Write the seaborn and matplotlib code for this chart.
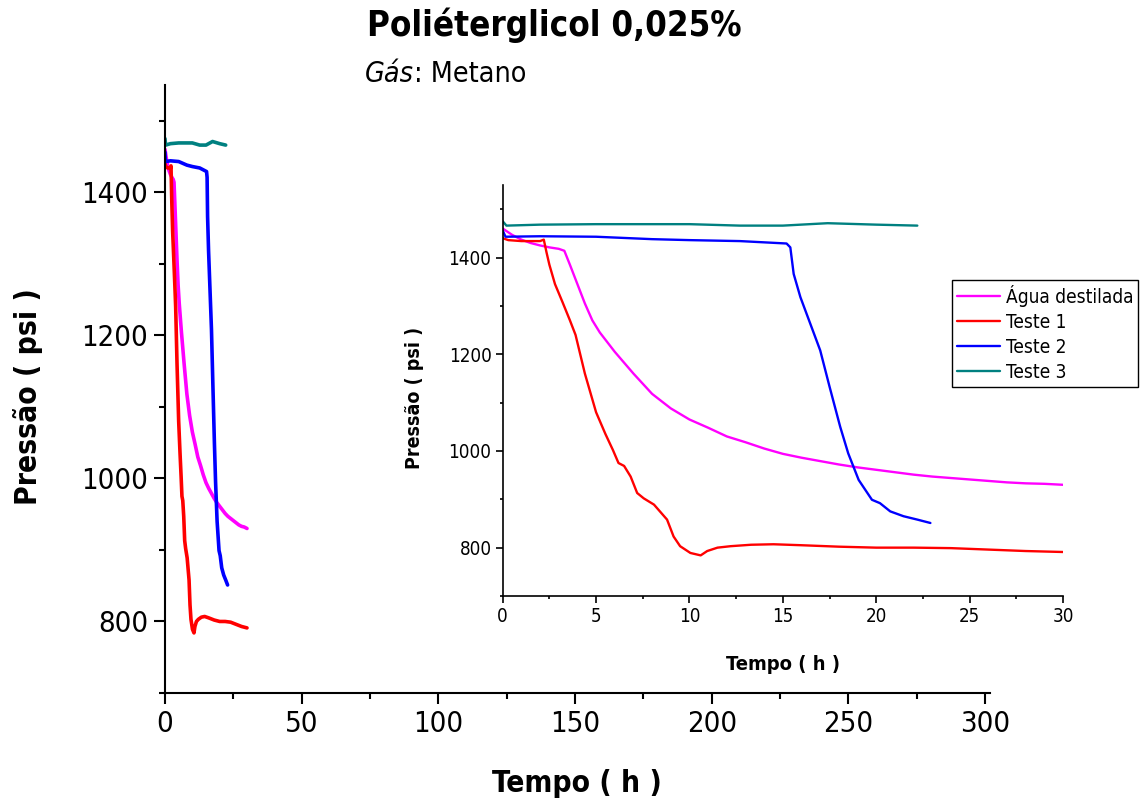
import matplotlib
matplotlib.use("Agg")
import matplotlib.pyplot as plt
import seaborn as sns
import pandas as pd
from matplotlib.ticker import MultipleLocator
from matplotlib.lines import Line2D

# ---------------- data ----------------
series_names = ["Água destilada", "Teste 1", "Teste 2", "Teste 3"]
series_colors = ["#FF00FF", "#FF0000", "#0000FF", "#008080"]

agua_t = [0, 0.5, 1.0, 1.5, 2.0, 2.5, 3.0, 3.3, 3.6, 4.0, 4.4, 4.8, 5.2, 6.0, 7.0, 8.0,
          9.0, 10.0, 11.0, 12.0, 13.0, 14.0, 15.0, 16.0, 17.0, 18.0, 19.0, 20.0, 21.0,
          22.0, 23.0, 24.0, 25.0, 26.0, 27.0, 28.0, 29.0, 30.0]
agua_p = [1460, 1447, 1437, 1430, 1425, 1421, 1418, 1414, 1385, 1345, 1305, 1270, 1245,
          1205, 1160, 1118, 1088, 1065, 1048, 1030, 1018, 1005, 994, 986, 979, 972, 966,
          961, 956, 951, 947, 944, 941, 938, 935, 933, 932, 930]

t1_t = [0, 0.3, 1.0, 2.0, 2.2, 2.35, 2.5, 2.8, 3.2, 3.6, 3.9, 4.4, 5.0, 5.5, 5.9, 6.2,
        6.5, 6.85, 7.2, 7.55, 8.1, 8.8, 9.15, 9.5, 10.05, 10.6, 10.95, 11.5, 12.2, 13.3,
        14.5, 16, 18, 20, 22, 24, 26, 28, 30]
t1_p = [1440, 1436, 1434, 1434, 1437, 1410, 1385, 1345, 1308, 1270, 1240, 1160, 1080,
        1035, 1002, 975, 969, 947, 913, 902, 889, 858, 823, 803, 789, 784, 793, 800, 803,
        806, 807, 805, 802, 800, 800, 799, 796, 793, 791]

t2_t = [0, 0.15, 2, 5, 8, 10, 12.7, 15.2, 15.4, 15.58, 15.94, 16.47, 17.0, 17.5, 18.07,
        18.5, 19.06, 19.77, 20.2, 20.75, 21.46, 22.2, 22.9]
t2_p = [1456, 1443, 1444, 1443, 1438, 1436, 1434, 1429, 1421, 1366, 1318, 1263, 1208,
        1133, 1050, 995, 940, 899, 892, 875, 865, 858, 851]

t3_t = [0, 0.2, 2, 5, 10, 12.7, 15, 17.4, 20, 22.2]
t3_p = [1475, 1466, 1468, 1469, 1469, 1466, 1466, 1471, 1468, 1466]

main_xticks = [0, 50, 100, 150, 200, 250, 300]
main_yticks = [800, 1000, 1200, 1400]
inset_xticks = [0, 5, 10, 15, 20, 25, 30]
inset_yticks = [800, 1000, 1200, 1400]

frames = []
for name, tt, pp in zip(series_names, [agua_t, t1_t, t2_t, t3_t], [agua_p, t1_p, t2_p, t3_p]):
    frames.append(pd.DataFrame({"Tempo": tt, "Pressao": pp, "Serie": name}))
df = pd.concat(frames, ignore_index=True)
palette = dict(zip(series_names, series_colors))

# ---------------- style ----------------
sns.set_style("ticks")
plt.rcParams["font.family"] = ["DejaVu Sans"]
plt.rcParams["font.stretch"] = "condensed"
plt.rcParams["text.color"] = "black"
plt.rcParams["axes.labelcolor"] = "black"

W, H = 1144, 800
fig = plt.figure(figsize=(W / 100, H / 100), dpi=100)

def fx(px):
    return px / W

def fy(py):
    return 1 - py / H

# main axes
ax = fig.add_axes([fx(165), fy(693), fx(990) - fx(165), fy(85) - fy(693)])
sns.lineplot(data=df, x="Tempo", y="Pressao", hue="Serie", palette=palette,
             sort=False, estimator=None, linewidth=2.6, legend=False, ax=ax)
ax.set_xlim(0, 301.8)
ax.set_ylim(700, 1550)
ax.set_xticks(main_xticks)
ax.set_yticks(main_yticks)
ax.xaxis.set_minor_locator(MultipleLocator(25))
ax.yaxis.set_minor_locator(MultipleLocator(100))
for s in ["top", "right"]:
    ax.spines[s].set_visible(False)
for s in ["left", "bottom"]:
    ax.spines[s].set_linewidth(1.5)
    ax.spines[s].set_color("black")
ax.tick_params(which="major", direction="out", length=8, width=1.5, labelsize=21, pad=4, colors="black")
ax.tick_params(which="minor", direction="out", length=4, width=1.5, colors="black")
ax.set_xlabel("")
ax.set_ylabel("")
fig.text(fx(577), fy(784), "Tempo ( h )", ha="center", va="center", fontsize=21.5, fontweight="bold")
fig.text(fx(28), fy(397), "Pressão ( psi )", ha="center", va="center", rotation=90,
         fontsize=21.5, fontweight="bold")

# inset axes
ins = fig.add_axes([fx(502.7), fy(596), fx(1063) - fx(502.7), fy(185) - fy(596)])
sns.lineplot(data=df, x="Tempo", y="Pressao", hue="Serie", palette=palette,
             sort=False, estimator=None, linewidth=1.7, legend=False, ax=ins)
ins.set_xlim(0, 30)
ins.set_ylim(700, 1550)
ins.set_xticks(inset_xticks)
ins.set_yticks(inset_yticks)
ins.xaxis.set_minor_locator(MultipleLocator(2.5))
ins.yaxis.set_minor_locator(MultipleLocator(100))
ins.patch.set_alpha(0)
for s in ["top", "right"]:
    ins.spines[s].set_visible(False)
for s in ["left", "bottom"]:
    ins.spines[s].set_linewidth(1.2)
    ins.spines[s].set_color("black")
ins.tick_params(which="major", direction="out", length=5, width=1.2, labelsize=13.5, pad=3, colors="black")
ins.tick_params(which="minor", direction="out", length=2.5, width=1.2, colors="black")
ins.set_xlabel("")
ins.set_ylabel("")
fig.text(fx(783), fy(665), "Tempo ( h )", ha="center", va="center", fontsize=14.5, fontweight="bold")
fig.text(fx(414), fy(398), "Pressão ( psi )", ha="center", va="center", rotation=90,
         fontsize=14, fontweight="bold")

handles = [Line2D([0], [0], color=c, lw=1.7) for c in series_colors]
leg = fig.legend(handles, series_names, loc="upper left",
                 bbox_to_anchor=(fx(952), fy(280)), bbox_transform=fig.transFigure,
                 fontsize=13.7, frameon=True, fancybox=False, framealpha=1,
                 edgecolor="black", borderpad=0.25, labelspacing=0.32,
                 handlelength=2.25, handletextpad=0.35, borderaxespad=0)
leg.get_frame().set_linewidth(1.0)

# title and subtitle
fig.text(fx(554), fy(25), "Poliéterglicol 0,025%", ha="center", va="center",
         fontsize=25, fontweight="bold")
renderer = fig.canvas.get_renderer()
t_it = fig.text(fx(365), fy(74), "Gás", ha="left", va="center", fontsize=20.5, style="italic")
bb = t_it.get_window_extent(renderer=renderer)
fig.text(bb.x1 / W, fy(74), ": Metano", ha="left", va="center", fontsize=20.5)

fig.savefig("out.png", dpi=100)
